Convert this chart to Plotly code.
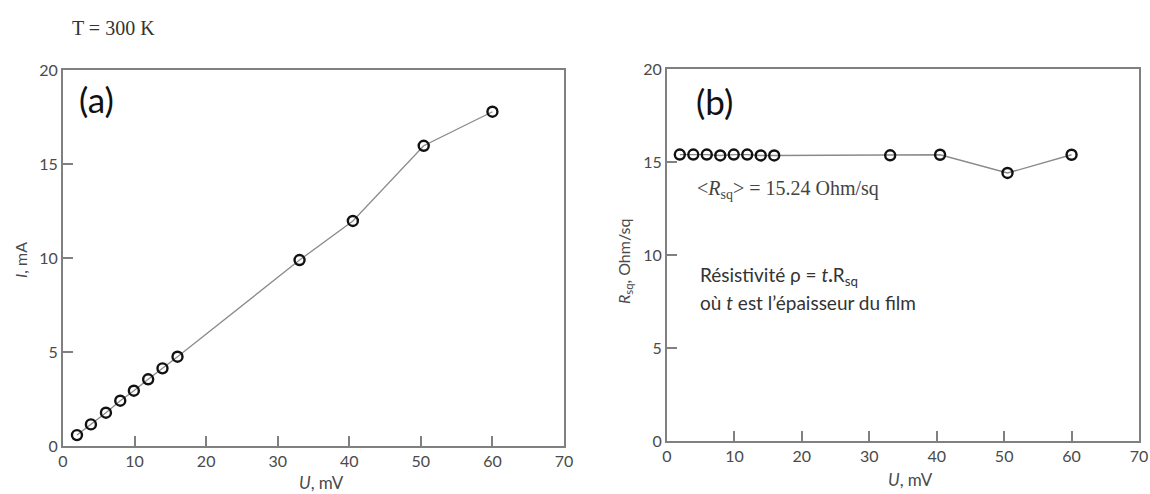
import plotly.graph_objects as go

# Panel (a): I vs U
U_a = [1.95, 3.9, 6.0, 8.0, 9.9, 11.9, 13.9, 16.0, 33.05, 40.5, 50.4, 60.0]
I_a = [0.58, 1.15, 1.77, 2.41, 2.94, 3.55, 4.13, 4.75, 9.89, 11.97, 15.97, 17.78]

# Panel (b): Rsq vs U
U_b = [1.9, 3.9, 5.9, 7.9, 9.9, 11.9, 13.9, 15.9, 33.1, 40.5, 50.5, 60.0]
R_b = [15.4, 15.4, 15.4, 15.35, 15.4, 15.4, 15.35, 15.35, 15.36, 15.39, 14.41, 15.39]

x_ticks = [0, 10, 20, 30, 40, 50, 60, 70]
y_ticks = [0, 5, 10, 15, 20]

W, H = 1150, 494
def px(x):
    return x / W
def py(y):
    return (H - y) / H

tick_font = dict(family="Lato, Open Sans, sans-serif", size=16, color="#4a4a4a")
line_col = "#808080"
marker = dict(symbol="circle-open", size=10, color="#111111", line=dict(width=2.4, color="#111111"))

fig = go.Figure()
fig.add_trace(go.Scatter(x=U_a, y=I_a, mode="lines+markers", xaxis="x", yaxis="y",
                         line=dict(color="#8a8a8a", width=1.3), marker=marker, showlegend=False))
fig.add_trace(go.Scatter(x=U_b, y=R_b, mode="lines+markers", xaxis="x2", yaxis="y2",
                         line=dict(color="#8a8a8a", width=1.3), marker=marker, showlegend=False))

axis_common = dict(showline=True, linecolor=line_col, linewidth=2, mirror=True,
                   showgrid=False, zeroline=False, ticks="inside", ticklen=10,
                   tickwidth=1.5, tickcolor=line_col, tickfont=tick_font, automargin=False)

fig.update_layout(
    width=W, height=H,
    margin=dict(l=0, r=0, t=0, b=0, pad=0),
    paper_bgcolor="white", plot_bgcolor="white",
    xaxis=dict(domain=[px(63), px(564)], range=[0, 70], tickvals=x_ticks, anchor="y", **axis_common),
    yaxis=dict(domain=[py(446), py(70)], range=[0, 20], tickvals=y_ticks, anchor="x", **axis_common),
    xaxis2=dict(domain=[px(667), px(1139)], range=[0, 70], tickvals=x_ticks, anchor="y2", **axis_common),
    yaxis2=dict(domain=[py(441), py(69)], range=[0, 20], tickvals=y_ticks, anchor="x2", **axis_common),
)

sans = "Lato, Open Sans, sans-serif"
serif = "Liberation Serif, Times New Roman, serif"

annots = [
    dict(x=px(70), y=py(28), text="T = 300 K", font=dict(family=serif, size=20, color="#333"), xanchor="left"),
    dict(x=px(77), y=py(99), text="(a)", font=dict(family=sans, size=35, color="#111"), xanchor="left"),
    dict(x=px(694), y=py(101), text="(b)", font=dict(family=sans, size=35, color="#111"), xanchor="left"),
    dict(x=px(321), y=py(482), text="<i>U</i>, mV", font=dict(family=sans, size=17, color="#4a4a4a")),
    dict(x=px(910), y=py(479), text="<i>U</i>, mV", font=dict(family=sans, size=17, color="#4a4a4a")),
    dict(x=px(20), y=py(260), text="<i>I</i>, mA", textangle=-90, font=dict(family=sans, size=16, color="#4a4a4a")),
    dict(x=px(624), y=py(262), text="<i>R</i><sub>sq</sub>, Ohm/sq", textangle=-90,
         font=dict(family=sans, size=16, color="#4a4a4a")),
    dict(x=px(695), y=py(190), text="&lt;<i>R</i><sub>sq</sub>&gt; = 15.24 Ohm/sq", xanchor="left",
         font=dict(family=serif, size=20, color="#444")),
    dict(x=px(698), y=py(276), text="Résistivité ρ = <i>t</i><b>.</b>R<sub>sq</sub>", xanchor="left",
         font=dict(family=sans, size=19, color="#333")),
    dict(x=px(698), y=py(302), text="où <i>t</i> est l’épaisseur du film", xanchor="left",
         font=dict(family=sans, size=19, color="#333")),
]
for a in annots:
    a.setdefault("xanchor", "center")
    fig.add_annotation(xref="paper", yref="paper", showarrow=False, yanchor="middle", **a)

fig.write_html("out.html", config={"displayModeBar": False},
               post_script="document.body.style.margin='0';document.body.style.overflow='hidden';")
